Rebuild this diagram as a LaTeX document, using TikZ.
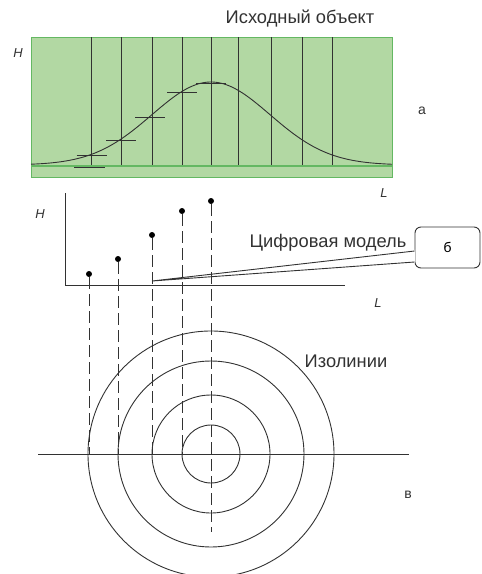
\documentclass[tikz,border=0pt]{standalone}
\usepackage{fontspec}
\setmainfont{Liberation Sans}
\newfontfamily\calloutfont{Carlito}
\definecolor{fieldgreen}{RGB}{178,216,163}
\definecolor{edgegreen}{RGB}{100,184,98}
\definecolor{inkgray}{RGB}{50,50,50}
\usetikzlibrary{positioning}

\begin{document}
\begin{tikzpicture}[x=1pt, y=-1pt,
            line/.style={inkgray, line width=0.9pt},
            proj/.style={inkgray, line width=0.9pt, dash pattern=on 12pt off 5pt},
            lbl/.style={inkgray, font=\fontsize{18.3}{21}\selectfont, inner sep=0pt},
            axlbl/.style={inkgray, font=\fontsize{13}{15}\selectfont\itshape, inner sep=0pt},
            tag/.style={inkgray, font=\fontsize{14}{16}\selectfont, inner sep=0pt},
            dot/.style={circle, fill=black, minimum size=6pt, inner sep=0pt},
            callout/.style={draw=inkgray, line width=0.9pt, rounded corners=6pt,
                            minimum width=65pt, minimum height=41pt, inner sep=0pt,
                            font=\calloutfont\fontsize{15}{17}\selectfont}
          ]
            \useasboundingbox (0,0) rectangle (482,574);

            % исходный объект
            \filldraw[fill=fieldgreen, draw=edgegreen, line width=1pt] (31,37) rectangle (392,177);
            \draw[edgegreen, line width=1.6pt] (31,166) -- (392,166);
            \foreach \x in {91,121,152,182,211,238,271,302,332}
              \draw[line] (\x,37) -- (\x,165);
            \draw[line] plot[domain=31:392, samples=120, smooth] (\x,{165-83*exp(-((\x-211)/59)^2/2)});
            \foreach \x/\y in {91.5/155,121/140,150/117,182/92,211/83}
              \draw[line] (\x-15,\y) -- (\x+15,\y);
            \draw[line] (74,167) -- (105,167);

            \node[lbl]   (src)  at (300,19)  {Исходный объект};
            \node[axlbl] (h1)   at (18,53)   {H};
            \node[axlbl] (l1)   at (384,193) {L};
            \node[tag]   (ta)   at (422,111) {а};

            % цифровая модель
            \draw[line] (65,193) -- (65,285) -- (345,285);
            \node[axlbl] (h2)   at (40,214)  {H};
            \node[axlbl] (l2)   at (378,303) {L};
            \node[lbl]   (dig)  at (328,243) {Цифровая модель};

            \foreach \i/\x/\y in {1/89/274,2/118/259,3/152/235,4/182/211,5/211/201} {
              \node[dot] (d\i) at (\x,\y) {};
              \coordinate (p\i) at (\x,454);
            }
            \coordinate (p5) at (211,532);
            \foreach \i in {1,...,5}
              \draw[proj] (d\i) -- (p\i);

            \node[callout] (tb) at (447.5,247.5) {б};
            \coordinate (tip) at (152,281);
            \path[fill=white, draw=white, line width=1pt] ([yshift=-3.5pt]tb.west) -- ([xshift=-4pt,yshift=-9pt]tb.west) -- ([yshift=-14.5pt]tb.west) -- cycle;
            \draw[line] ([yshift=-3.5pt]tb.west) -- (tip) -- ([yshift=-14.5pt]tb.west);

            % изолинии
            \draw[line] (38,454) -- (409,454);
            \foreach \r in {29,59,93,123}
              \draw[line] (211,454) circle[radius=\r pt];
            \node[lbl] (iso) at (346,361) {Изолинии};
            \node[tag] (tv)  at (408,495) {в};
          \end{tikzpicture}
\end{document}
